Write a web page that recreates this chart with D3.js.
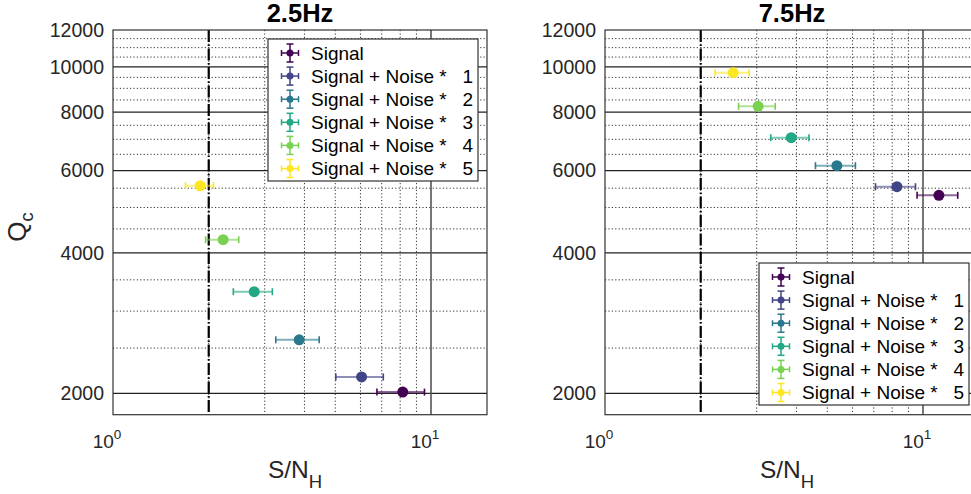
<!DOCTYPE html>
<html><head><meta charset="utf-8">
<script src="https://cdn.jsdelivr.net/npm/d3@7"></script>
<style>body{margin:0;background:#fff}svg{display:block;font-family:"Liberation Sans",Arial,sans-serif}</style>
</head><body><svg id="c" width="971" height="494"></svg>
<script>
// ---- data ----
const seriesNames = ["Signal","Signal + Noise *   1","Signal + Noise *   2","Signal + Noise *   3","Signal + Noise *   4","Signal + Noise *   5"];
const seriesColors = ["#440154","#414487","#2a788e","#22a884","#7ad151","#fde725"];
const titles = ["2.5Hz","7.5Hz"];
const x25 = [8.15, 6.05, 3.85, 2.78, 2.22, 1.88];
const xerr25 = [1.39, 1.03, 0.60, 0.39, 0.265, 0.19];
const y25 = [2012, 2168, 2604, 3301, 4266, 5567];
const x75 = [11.22, 8.28, 5.36, 3.85, 3.03, 2.53];
const xerr75 = [1.64, 1.19, 0.77, 0.53, 0.40, 0.31];
const y75 = [5309, 5540, 6146, 7055, 8237, 9723];
const yTicks = [2000, 4000, 6000, 8000, 10000, 12000];
const yMajorGrid = [2000, 4000, 6000, 8000, 10000];
const yMinorGrid = [2500,3000,3500,4500,5000,5500,6500,7000,7500,8500,9000,9500,10500,11000,11500];
const xTicks = [1, 10];
const xMinorGrid = [2,3,4,5,6,7,8,9];
const thresholdX = 2;
const xDomain = [1, 15];
const yDomain = [1800, 12000];

const svg = d3.select("#c");
const panels = [
  {x0:113, x1:487, xs:x25, xe:xerr25, ys:y25, title:titles[0], legend:{x:268,y:39}},
  {x0:605, x1:979, xs:x75, xe:xerr75, ys:y75, title:titles[1], legend:{x:759,y:263}}
];
const plotTop = 30, plotBottom = 414.7;

panels.forEach((p,pi)=>{
  const x = d3.scaleLog().domain(xDomain).range([p.x0,p.x1]);
  const y = d3.scaleLog().domain(yDomain).range([plotBottom, plotTop]);
  const g = svg.append("g");
  // minor grid
  g.selectAll(".ymin").data(yMinorGrid).join("line")
    .attr("x1",p.x0).attr("x2",p.x1).attr("y1",d=>y(d)).attr("y2",d=>y(d))
    .attr("stroke","#333").attr("stroke-width",1).attr("stroke-dasharray","1.2,2.2");
  g.selectAll(".xmin").data(xMinorGrid).join("line")
    .attr("x1",d=>x(d)).attr("x2",d=>x(d)).attr("y1",plotTop).attr("y2",plotBottom)
    .attr("stroke","#333").attr("stroke-width",1).attr("stroke-dasharray","1.2,2.2");
  // major grid
  g.selectAll(".ymaj").data(yMajorGrid).join("line")
    .attr("x1",p.x0).attr("x2",p.x1).attr("y1",d=>y(d)).attr("y2",d=>y(d))
    .attr("stroke","#222").attr("stroke-width",1.2);
  g.selectAll(".xmaj").data(xTicks.filter(d=>d>1)).join("line")
    .attr("x1",d=>x(d)).attr("x2",d=>x(d)).attr("y1",plotTop).attr("y2",plotBottom)
    .attr("stroke","#555").attr("stroke-width",1.6);
  // threshold dash-dot line
  g.append("line").attr("x1",x(thresholdX)).attr("x2",x(thresholdX)).attr("y1",plotTop).attr("y2",plotBottom)
    .attr("stroke","#000").attr("stroke-width",2.2).attr("stroke-dasharray","12,2.5,1.5,2.5");
  // box
  g.append("rect").attr("x",p.x0).attr("y",plotTop).attr("width",p.x1-p.x0).attr("height",plotBottom-plotTop)
    .attr("fill","none").attr("stroke","#333").attr("stroke-width",1.2);
  // y tick labels
  g.selectAll(".ytl").data(yTicks).join("text")
    .attr("x",p.x0-9).attr("y",d=>y(d)+6.8).attr("text-anchor","end")
    .attr("font-size",19.5).attr("fill","#262626").text(d=>d);
  // x tick labels 10^n
  xTicks.forEach(t=>{
    const tx = g.append("text").attr("x",x(t)-6).attr("y",448).attr("text-anchor","middle")
      .attr("font-size",19).attr("fill","#262626");
    tx.append("tspan").text("10");
    tx.append("tspan").attr("dy",-9).attr("font-size",13.5).text(Math.round(Math.log10(t)));
  });
  // title
  g.append("text").attr("x",(p.x0+p.x1)/2).attr("y",22).attr("text-anchor","middle")
    .attr("font-size",25.5).attr("font-weight","bold").attr("fill","#000").text(p.title);
  // x label
  const xl = g.append("text").attr("x",(p.x0+p.x1)/2-5).attr("y",478).attr("text-anchor","middle")
    .attr("font-size",24.5).attr("fill","#262626");
  xl.append("tspan").text("S/N");
  xl.append("tspan").attr("dy",10).attr("font-size",18.5).text("H");
  // y label (left panel only)
  if (pi === 0) {
    const yl = g.append("text").attr("transform",`translate(26,227) rotate(-90)`)
      .attr("text-anchor","middle").attr("font-size",26).attr("fill","#262626");
    yl.append("tspan").text("Q");
    yl.append("tspan").attr("dy",7).attr("font-size",19).text("c");
  }

  // data error bars
  const data = p.xs.map((v,i)=>({x:v,e:p.xe[i],y:p.ys[i],c:seriesColors[i]}));
  const pts = g.append("g").selectAll("g").data(data).join("g");
  pts.append("line").attr("x1",d=>x(d.x-d.e)).attr("x2",d=>x(d.x+d.e)).attr("y1",d=>y(d.y)).attr("y2",d=>y(d.y))
    .attr("stroke",d=>d.c).attr("stroke-width",2).attr("stroke-opacity",0.6);
  [-1,1].forEach(s=>{
    pts.append("line").attr("x1",d=>x(d.x+s*d.e)).attr("x2",d=>x(d.x+s*d.e))
      .attr("y1",d=>y(d.y)-3.5).attr("y2",d=>y(d.y)+3.5)
      .attr("stroke",d=>d.c).attr("stroke-width",1.6);
  });
  pts.append("circle").attr("cx",d=>x(d.x)).attr("cy",d=>y(d.y)).attr("r",5.5).attr("fill",d=>d.c);

  // legend
  const L = p.legend, lw = 210, lh = 142;
  const lg = g.append("g").attr("transform",`translate(${L.x},${L.y})`);
  lg.append("rect").attr("width",lw).attr("height",lh).attr("fill","#fff").attr("stroke","#333").attr("stroke-width",1.2);
  const items = lg.selectAll(".it").data(seriesNames).join("g")
    .attr("transform",(d,i)=>`translate(0,${14+i*23.1})`);
  items.append("line").attr("x1",13.5).attr("x2",30.5).attr("y1",0).attr("y2",0).attr("stroke",(d,i)=>seriesColors[i]).attr("stroke-width",1.5);
  items.append("line").attr("x1",22).attr("x2",22).attr("y1",-9).attr("y2",9).attr("stroke",(d,i)=>seriesColors[i]).attr("stroke-width",1.5);
  [13.5,30.5].forEach(cx=>items.append("line").attr("x1",cx).attr("x2",cx).attr("y1",-3).attr("y2",3).attr("stroke",(d,i)=>seriesColors[i]).attr("stroke-width",1.5));
  [-9,9].forEach(cy=>items.append("line").attr("x1",18.5).attr("x2",25.5).attr("y1",cy).attr("y2",cy).attr("stroke",(d,i)=>seriesColors[i]).attr("stroke-width",1.5));
  items.append("circle").attr("cx",22).attr("cy",0).attr("r",3.5).attr("fill",(d,i)=>seriesColors[i]);
  items.append("text").attr("x",43).attr("y",6.8).attr("font-size",19).attr("fill","#000")
    .style("white-space","pre").text(d=>d);
});
</script></body></html>
